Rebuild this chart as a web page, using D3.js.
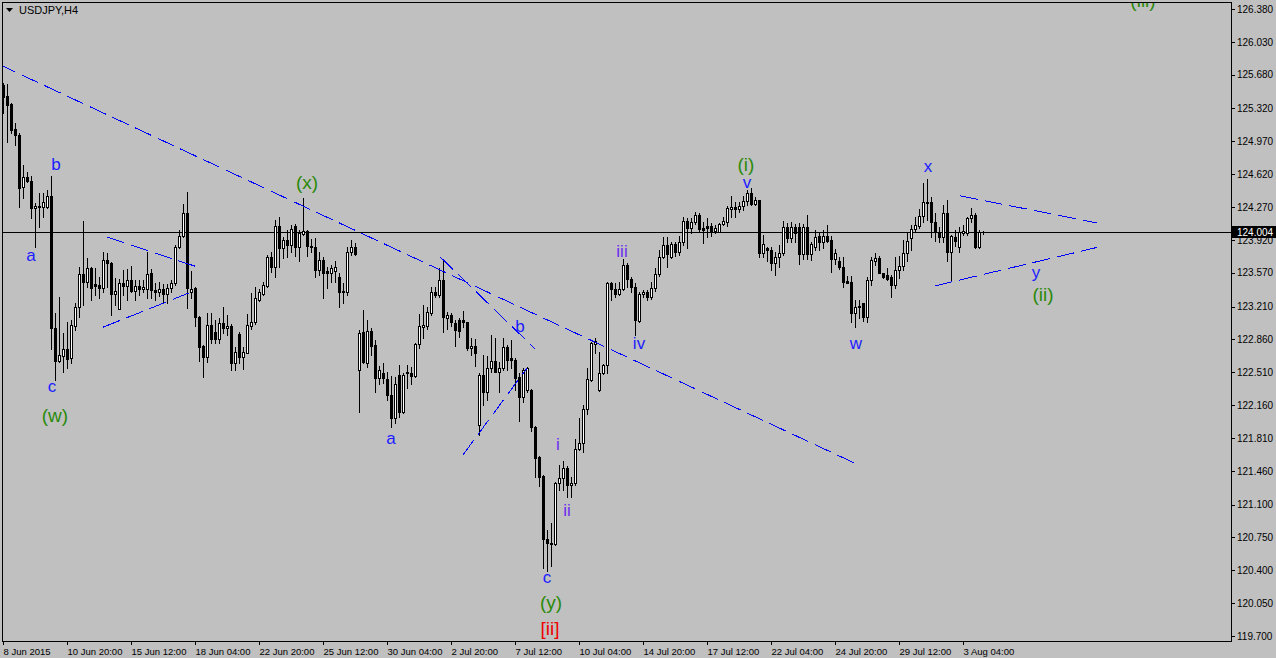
<!DOCTYPE html>
<html>
<head>
<meta charset="utf-8">
<script src="https://cdn.jsdelivr.net/npm/d3@7"></script>
<style>
  html, body { margin: 0; padding: 0; background: #c0c0c0; }
  svg { display: block; }
</style>
</head>
<body>
<svg id="chart" width="1276" height="658"></svg>
<script>
// ---------------- DATA (USDJPY, H4) ----------------
const symbolTitle = "USDJPY,H4";
const firstBarIndex = 1; // bars counted from 8 Jun 2015 00:00 (index 0)
const open = [125.57,125.45,125.37,125.10,125.04,124.48,124.59,124.55,124.26,124.27,
124.27,124.27,124.39,122.98,122.63,122.68,122.76,122.66,123.00,123.21,
123.56,123.47,123.62,123.45,123.44,123.41,123.71,123.67,123.34,123.18,
123.46,123.43,123.49,123.38,123.43,123.40,123.40,123.57,123.39,123.37,
123.40,123.34,123.41,123.46,123.84,123.96,124.21,123.37,123.41,123.10,
122.79,122.67,123.01,122.94,122.86,123.03,122.98,123.00,122.61,122.92,
122.67,122.72,123.00,123.04,123.28,123.34,123.43,123.74,123.63,124.07,
123.83,123.92,123.87,124.07,123.84,123.98,124.02,123.86,123.84,123.60,
123.71,123.59,123.57,123.59,123.53,123.38,123.37,123.79,123.84,122.53,
122.94,122.61,122.95,122.80,122.45,122.50,122.44,122.27,122.02,122.48,
122.09,122.51,122.50,122.47,122.81,122.99,123.00,123.14,123.36,123.33,
123.49,123.09,123.12,123.03,123.07,123.07,123.04,122.77,122.79,121.95,
122.48,122.30,122.55,122.63,122.51,122.56,122.78,122.66,122.64,122.46,
122.25,122.32,122.32,121.93,121.61,121.40,120.73,120.68,120.68,121.33,
121.38,121.49,121.31,121.33,121.69,121.76,122.12,122.43,122.81,122.32,
122.50,122.59,123.46,123.40,123.34,123.40,123.65,123.50,123.42,123.06,
123.34,123.36,123.31,123.41,123.56,123.74,123.87,123.74,123.88,123.79,
123.90,124.12,124.05,124.11,124.19,124.05,124.07,124.07,124.02,124.00,
124.09,124.11,124.25,124.27,124.25,124.28,124.33,124.42,124.30,124.35,
123.78,123.83,123.81,123.67,123.74,123.78,124.06,123.94,124.06,124.06,
123.77,124.06,123.77,123.84,123.96,123.90,123.96,123.92,123.72,123.70,
123.63,123.48,123.47,123.14,123.20,123.25,123.10,123.49,123.70,123.73,
123.57,123.55,123.52,123.44,123.60,123.64,123.78,123.94,124.04,124.07,
124.17,124.32,124.32,124.11,124.00,123.95,124.21,123.79,123.95,123.84,
123.99,123.99,124.15,124.19,123.84,124.00];
const high = [125.59,125.58,125.38,125.17,125.06,124.72,124.64,124.60,124.31,124.42,
124.42,124.45,124.60,123.14,123.31,122.93,123.05,123.07,123.25,123.63,
124.12,123.73,123.63,123.62,123.53,123.79,123.78,123.68,123.51,123.50,
123.60,123.61,123.64,123.49,123.49,123.49,123.79,123.61,123.46,123.47,
123.45,123.45,123.49,123.87,124.03,124.30,124.43,123.59,123.42,123.11,
122.80,123.14,123.14,123.07,123.09,123.20,123.12,123.02,122.78,122.94,
122.78,123.13,123.35,123.42,123.40,123.47,123.76,123.79,124.13,124.16,
123.95,124.03,124.08,124.09,124.03,124.37,124.03,123.93,123.94,123.79,
123.74,123.63,123.65,123.69,123.57,123.46,123.84,123.92,123.89,122.96,
123.17,123.07,122.98,122.85,122.58,122.61,122.51,122.47,122.46,122.59,
122.50,122.59,122.57,122.82,123.13,123.23,123.21,123.42,123.42,123.62,
123.71,123.15,123.14,123.07,123.09,123.16,123.05,122.87,122.86,122.50,
122.69,122.68,122.91,122.88,122.62,122.88,122.80,122.85,122.66,122.50,
122.56,122.57,122.33,121.94,121.62,121.41,120.83,120.90,121.34,121.52,
121.56,121.51,121.39,121.80,122.02,122.16,122.56,122.83,122.88,122.73,
122.60,123.47,123.47,123.46,123.47,123.72,123.67,123.53,123.46,123.37,
123.39,123.39,123.47,123.62,123.81,123.95,123.95,123.90,123.90,123.96,
124.16,124.15,124.15,124.22,124.21,124.11,124.15,124.10,124.08,124.10,
124.16,124.28,124.39,124.32,124.32,124.39,124.45,124.47,124.38,124.35,
123.97,123.84,123.84,123.79,123.87,124.12,124.10,124.11,124.09,124.10,
124.09,124.18,123.90,124.03,124.00,124.03,124.08,123.96,123.82,123.74,
123.74,123.54,123.54,123.28,123.28,123.25,123.53,123.74,123.78,123.75,
123.57,123.62,123.55,123.74,123.75,123.92,124.00,124.08,124.16,124.25,
124.53,124.57,124.38,124.21,124.06,124.29,124.35,123.97,124.03,124.06,
124.08,124.16,124.26,124.21,124.03,124.02];
const low = [125.27,124.96,125.06,124.93,124.27,124.37,124.54,124.15,123.84,124.06,
124.16,124.26,122.76,122.43,122.62,122.51,122.56,122.61,122.96,123.10,
123.23,123.42,123.28,123.33,123.30,123.36,123.42,123.12,123.23,123.18,
123.33,123.28,123.36,123.28,123.33,123.37,123.30,123.30,123.28,123.32,
123.25,123.25,123.36,123.44,123.83,123.95,123.19,123.30,123.00,122.63,
122.46,122.62,122.82,122.82,122.82,122.93,122.91,122.53,122.53,122.61,
122.54,122.72,122.97,123.02,123.27,123.33,123.42,123.58,123.53,123.63,
123.73,123.74,123.79,123.75,123.70,123.97,123.75,123.79,123.53,123.55,
123.30,123.41,123.47,123.47,123.20,123.25,123.33,123.76,123.76,122.09,
122.61,122.57,122.69,122.30,122.39,122.40,122.21,121.93,121.97,122.03,
122.08,122.34,122.38,122.46,122.77,122.88,122.97,123.12,123.31,123.31,
122.94,122.97,123.00,122.79,122.89,122.99,122.75,122.69,122.58,121.84,
122.16,122.21,122.51,122.51,122.30,122.53,122.53,122.55,122.32,121.99,
122.19,122.30,121.88,121.39,121.30,120.42,120.39,120.45,120.67,121.26,
121.26,121.18,121.18,121.31,121.68,121.66,122.07,122.42,122.72,122.31,
122.49,122.50,123.28,123.31,123.33,123.39,123.42,123.36,122.91,123.04,
123.31,123.28,123.29,123.38,123.54,123.73,123.63,123.73,123.75,123.76,
123.87,123.83,123.99,124.09,124.02,123.89,123.95,123.96,123.99,124.00,
124.08,124.07,124.16,124.16,124.22,124.24,124.29,124.29,124.29,123.74,
123.74,123.69,123.60,123.55,123.63,123.76,123.90,123.90,123.90,123.66,
123.72,123.72,123.71,123.81,123.81,123.83,123.90,123.58,123.66,123.61,
123.42,123.46,123.05,122.99,123.09,123.06,123.05,123.44,123.65,123.57,
123.51,123.49,123.31,123.41,123.51,123.60,123.69,123.81,124.01,124.05,
124.11,124.13,123.95,123.91,123.90,123.90,123.70,123.49,123.86,123.79,
123.97,123.97,124.11,123.83,123.83,123.98];
const close = [125.44,125.36,125.09,125.04,124.47,124.59,124.55,124.26,124.28,124.28,
124.32,124.39,122.98,122.63,122.69,122.76,122.65,123.01,123.21,123.56,
123.47,123.62,123.41,123.43,123.41,123.71,123.67,123.34,123.38,123.46,
123.43,123.49,123.38,123.43,123.40,123.42,123.56,123.39,123.37,123.40,
123.34,123.41,123.46,123.84,123.96,124.21,123.41,123.40,123.10,122.78,
122.67,123.01,122.86,122.86,123.03,122.98,123.00,122.61,122.73,122.67,
122.73,123.01,123.04,123.30,123.36,123.44,123.74,123.63,124.07,123.83,
123.92,123.87,124.04,123.84,123.99,124.02,123.86,123.84,123.60,123.71,
123.57,123.57,123.62,123.63,123.37,123.36,123.79,123.84,123.77,122.93,
122.62,122.95,122.79,122.45,122.53,122.45,122.27,122.02,122.39,122.09,
122.48,122.50,122.47,122.81,123.00,123.01,123.15,123.36,123.33,123.49,
123.10,123.12,123.04,122.96,122.95,123.04,122.77,122.79,122.72,122.48,
122.30,122.56,122.63,122.51,122.56,122.78,122.64,122.64,122.45,122.25,
122.53,122.56,121.93,121.60,121.39,120.73,120.69,120.69,121.33,121.38,
121.49,121.31,121.33,121.69,121.76,122.12,122.44,122.82,122.84,122.50,
122.59,123.46,123.40,123.34,123.40,123.65,123.50,123.42,123.07,123.34,
123.36,123.31,123.41,123.56,123.74,123.87,123.77,123.88,123.79,123.90,
124.12,124.05,124.11,124.19,124.04,124.03,124.05,124.00,124.05,124.09,
124.12,124.26,124.27,124.25,124.28,124.33,124.42,124.30,124.35,123.78,
123.88,123.81,123.67,123.74,123.78,124.06,123.94,124.06,123.99,123.77,
124.06,123.77,123.88,123.95,123.90,123.96,123.91,123.72,123.78,123.63,
123.47,123.46,123.14,123.20,123.22,123.10,123.49,123.71,123.73,123.57,
123.53,123.50,123.44,123.60,123.64,123.78,123.91,124.04,124.08,124.17,
124.32,124.31,124.11,124.00,123.95,124.21,123.79,123.96,123.91,124.00,
124.02,124.15,124.19,123.84,124.00,124.004];
const bidPrice = 124.004;

const priceTicks = [126.380,126.030,125.680,125.320,124.970,124.620,124.270,123.920,123.570,123.210,
  122.860,122.510,122.160,121.810,121.460,121.100,120.750,120.400,120.050,119.700];
const timeLabels = ["8 Jun 2015","10 Jun 20:00","15 Jun 12:00","18 Jun 04:00","22 Jun 20:00","25 Jun 12:00",
  "30 Jun 04:00","2 Jul 20:00","7 Jul 12:00","10 Jul 04:00","14 Jul 20:00","17 Jul 12:00",
  "22 Jul 04:00","24 Jul 20:00","29 Jul 12:00","3 Aug 04:00"];

// trend lines: [barIndex, price] pairs
const lineMain   = [[0, 125.79], [214, 121.54]];
const triA_upper = [[27, 123.95], [49, 123.64]];
const triA_lower = [[26, 122.99], [49, 123.38]];
const wedge_up   = [[110.25, 123.74], [134, 122.76]];
const wedge_low  = [[116, 121.63], [132, 122.555]];
const triB_upper = [[240.25, 124.39], [274.5, 124.10]];
const triB_lower = [[234, 123.43], [274.5, 123.84]];

// wave labels: text, bar index, price, kind
const waveText  = ["a","b","c","(w)","(x)","a","b","c","(y)","[ii]","i","ii","iii","iv","(i)","v","x","w","y","(ii)","(iii)"];
const waveIndex = [8,14.25,13.25,14,77,98,130.25,137,138,137.75,139.75,142,155.75,160,186.75,187,232.25,214.25,259.25,261,286];
const wavePrice = [123.75,124.72,122.36,122.05,124.53,121.80,123.00,120.32,120.06,119.775,121.735,121.04,123.80,122.82,124.72,124.53,124.70,122.82,123.57,123.34,126.475];
const waveKind  = ["b","b","b","g","g","b","b","b","g","r","p","p","p","b","g","b","b","b","b","g","g"];

// ---------------- DRAW ----------------
const W = 1276, H = 658;
const pL = 2, pT = 2, pR = 1231, pB = 641;
const svg = d3.select("#chart");

const bars = open.map((o, k) => ({
  i: k + firstBarIndex, o, h: Math.max(high[k], o, close[k]), l: Math.min(low[k], o, close[k]), c: close[k]
}));

const x = d3.scaleLinear().domain([0, 246]).range([-1, 983]);
const y = d3.scaleLinear().domain([119.70, 126.38]).range([636, 9]);

// bar time formatting (6 bars per weekday, no weekend bars)
const months = ["Jan","Feb","Mar","Apr","May","Jun","Jul","Aug","Sep","Oct","Nov","Dec"];
const startMs = Date.UTC(2015, 5, 8);
function barLabel(i) {
  const day = Math.floor(i / 6), wk = Math.floor(day / 5), dow = day % 5;
  const d = new Date(startMs + (wk * 7 + dow) * 86400000);
  const hh = String((i % 6) * 4).padStart(2, "0");
  return d.getUTCDate() + " " + months[d.getUTCMonth()] + " " + hh + ":00";
}
const tickIdx = timeLabels.map((lab, k) => {
  if (k === 0) return firstBarIndex;
  for (let i = 0; i < 400; i++) if (barLabel(i) === lab) return i;
  return 0;
});

svg.append("rect").attr("width", W).attr("height", H).attr("fill", "#c0c0c0");

const defs = svg.append("defs");
defs.append("clipPath").attr("id", "plot").append("rect")
  .attr("x", pL + 1).attr("y", pT + 1).attr("width", pR - pL - 1).attr("height", pB - pT - 1);

const plot = svg.append("g").attr("clip-path", "url(#plot)");

// bid line
plot.append("line")
  .attr("x1", pL).attr("x2", pR)
  .attr("y1", Math.round(y(bidPrice)) + 0.5).attr("y2", Math.round(y(bidPrice)) + 0.5)
  .attr("stroke", "#000").attr("stroke-width", 1).attr("shape-rendering", "crispEdges");

// candles
const cg = plot.append("g").attr("shape-rendering", "crispEdges");
bars.forEach(b => {
  const cx = Math.round(x(b.i));
  const yh = Math.round(y(b.h)), yl = Math.round(y(b.l));
  const yt = Math.round(y(Math.max(b.o, b.c))), yb = Math.round(y(Math.min(b.o, b.c)));
  cg.append("rect").attr("x", cx).attr("y", yh).attr("width", 1).attr("height", Math.max(1, yl - yh + 1)).attr("fill", "#000");
  cg.append("rect").attr("x", cx - 1).attr("y", yt).attr("width", 3).attr("height", Math.max(1, yb - yt + 1)).attr("fill", "#000");
  if (b.c > b.o && yb - yt >= 2) {
    cg.append("rect").attr("x", cx).attr("y", yt + 1).attr("width", 1).attr("height", yb - yt - 1).attr("fill", "#fff");
  }
});

// trend lines
const tl = plot.append("g");
[lineMain, triA_upper, triA_lower, wedge_up, wedge_low, triB_upper, triB_lower].forEach(seg => {
  tl.append("line")
    .attr("x1", x(seg[0][0])).attr("y1", y(seg[0][1]))
    .attr("x2", x(seg[1][0])).attr("y2", y(seg[1][1]))
    .attr("stroke", "#0000ff").attr("stroke-width", 1)
    .attr("stroke-dasharray", "18,7").attr("shape-rendering", "crispEdges");
});

// wave labels
const colors = { b: "#1c1cff", g: "#2a8a0a", r: "#f00000", p: "#6a2cf0" };
const lg = plot.append("g");
waveText.forEach((t, k) => {
  const kind = waveKind[k];
  lg.append("text")
    .attr("x", x(waveIndex[k])).attr("y", y(wavePrice[k]))
    .attr("text-anchor", "middle").attr("dominant-baseline", "central")
    .attr("font-family", "'Liberation Sans', Arial, sans-serif")
    .attr("font-size", (kind === "g" || kind === "r") ? 19 : 17)
    .attr("fill", colors[kind])
    .text(t);
});

// frame
svg.append("rect")
  .attr("x", pL + 0.5).attr("y", pT + 0.5)
  .attr("width", pR - pL).attr("height", pB - pT)
  .attr("fill", "none").attr("stroke", "#000").attr("shape-rendering", "crispEdges");

// price axis
const yAxis = d3.axisRight(y).tickValues(priceTicks).tickFormat(d3.format(".3f")).tickSize(4).tickPadding(2);
const ya = svg.append("g").attr("transform", `translate(${pR},0)`).call(yAxis);
ya.select(".domain").remove();
ya.selectAll("line").attr("stroke", "#000").attr("shape-rendering", "crispEdges");
ya.selectAll("text").attr("font-family", "'Liberation Sans', Arial, sans-serif").attr("font-size", 10).attr("fill", "#000");

// time axis
const xAxis = d3.axisBottom(x).tickValues(tickIdx).tickFormat((d, k) => timeLabels[k]).tickSize(4).tickPadding(3);
const xa = svg.append("g").attr("transform", `translate(0,${pB})`).call(xAxis);
xa.select(".domain").remove();
xa.selectAll("line").attr("stroke", "#000").attr("shape-rendering", "crispEdges");
xa.selectAll("text").attr("text-anchor", "start").attr("x", 0)
  .attr("font-family", "'Liberation Sans', Arial, sans-serif").attr("font-size", 9.5).attr("fill", "#000");

// bid price label
const by = Math.round(y(bidPrice));
svg.append("rect").attr("x", pR + 1).attr("y", by - 6).attr("width", W - pR - 1).attr("height", 12).attr("fill", "#000");
svg.append("text").attr("x", pR + 6).attr("y", by).attr("dominant-baseline", "central")
  .attr("font-family", "'Liberation Sans', Arial, sans-serif").attr("font-size", 10).attr("fill", "#fff")
  .text(d3.format(".3f")(bidPrice));

// title
svg.append("path").attr("d", "M6,8 L13,8 L9.5,12 Z").attr("fill", "#000");
svg.append("text").attr("x", 19).attr("y", 14)
  .attr("font-family", "'Liberation Sans', Arial, sans-serif").attr("font-size", 11).attr("fill", "#000")
  .text(symbolTitle);
</script>
</body>
</html>
